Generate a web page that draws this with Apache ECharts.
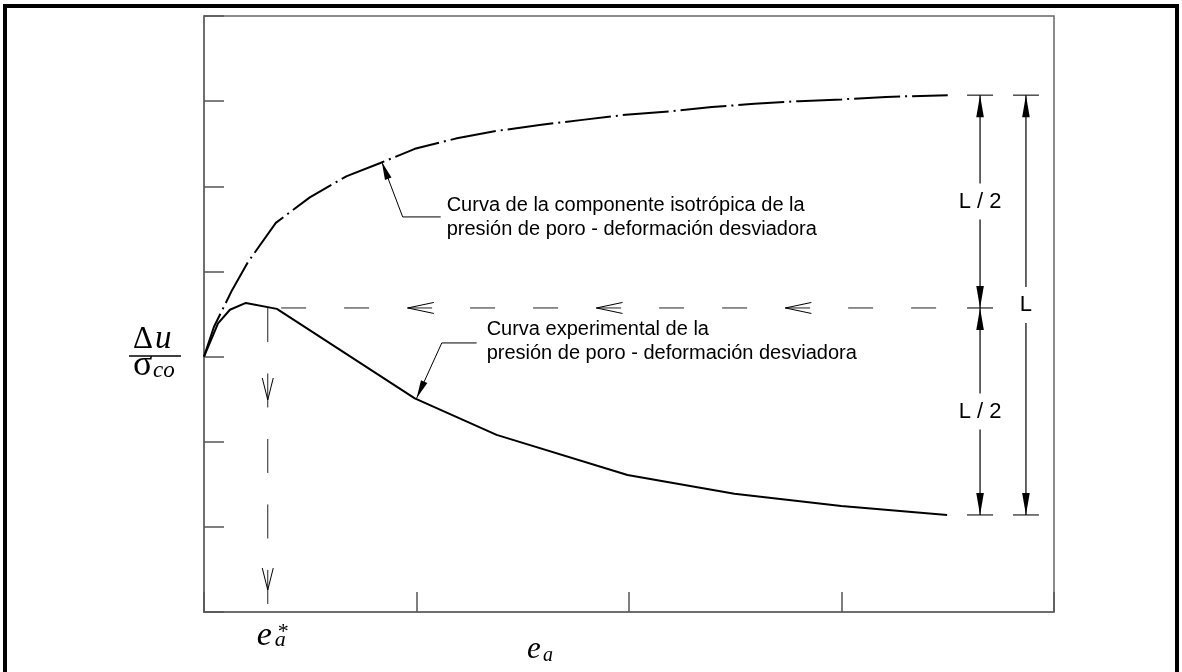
<!DOCTYPE html>
<html><head><meta charset="utf-8">
<script src="https://cdn.jsdelivr.net/npm/echarts@6/dist/echarts.min.js"></script>
<style>html,body{margin:0;padding:0;background:#fff}#c{width:1182px;height:672px}</style>
</head><body><div id="c"></div>
<script>
// ---- data (axis units: x 0..4, y 0..7) ----
const isoX = [0, 0.047, 0.132, 0.207, 0.338, 0.498, 0.672, 0.827, 0.992, 1.184, 1.377, 1.579, 1.781, 1.984, 2.19, 2.39, 2.59, 2.80, 3.00, 3.21, 3.50];
const isoY = [3.0, 3.35, 3.78, 4.11, 4.57, 4.87, 5.12, 5.27, 5.44, 5.56, 5.65, 5.72, 5.78, 5.84, 5.88, 5.93, 5.97, 6.00, 6.02, 6.05, 6.07];
const expX = [0, 0.066, 0.122, 0.197, 0.343, 0.992, 1.377, 1.993, 2.496, 2.999, 3.497];
const expY = [3.0, 3.39, 3.55, 3.63, 3.56, 2.51, 2.08, 1.61, 1.39, 1.245, 1.14];
const peak = [0.30, 3.571];           // e_a* and guide level
const guideEndX = 3.497;
const hArrowX = [0.959, 1.847, 2.736]; // chevron tips on horizontal guide
const vArrowY = [2.49, 0.258];         // chevron tips on vertical guide
const dimX = [3.652, 3.868];
const dimLabels = ['L / 2', 'L / 2', 'L'];
const isoNote = ['Curva de la componente isotrópica de la', 'presión de poro - deformación desviadora'];
const isoLeader = [[0.837, 5.285], [0.935, 4.64], [1.114, 4.64]];
const isoNoteX = 1.142, isoNoteY = [4.77, 4.49];
const expNote = ['Curva experimental de la', 'presión de poro - deformación desviadora'];
const expLeader = [[1.001, 2.513], [1.119, 3.16], [1.283, 3.16]];
const expNoteX = 1.330, expNoteY = [3.324, 3.042];

const SANS = '"Liberation Sans", Arial, sans-serif';
const SERIF = '"Liberation Serif", "Times New Roman", serif';
const zip = (xs, ys) => xs.map((x, i) => [x, ys[i]]);

function renderAnno(params, api) {
  const c = p => api.coord(p);
  const ch = [];
  const line = (a, b, w, col) => ch.push({type: 'line', shape: {x1: a[0], y1: a[1], x2: b[0], y2: b[1]}, style: {stroke: col || '#000', lineWidth: w || 1.2}});
  const head = (tip, ux, uy, len, hw) => {
    const bx = tip[0] - ux * len, by = tip[1] - uy * len;
    ch.push({type: 'polygon', shape: {points: [[tip[0], tip[1]], [bx - uy * hw, by + ux * hw], [bx + uy * hw, by - ux * hw]]}, style: {fill: '#000'}});
  };
  const chev = (tip, ux, uy, len, hw) => {
    const bx = tip[0] - ux * len, by = tip[1] - uy * len;
    ch.push({type: 'polyline', shape: {points: [[bx - uy * hw, by + ux * hw], [tip[0], tip[1]], [bx + uy * hw, by - ux * hw]]}, style: {stroke: '#000', fill: null, lineWidth: 1}});
  };
  const text = (p, s, size) => ch.push({type: 'text', x: p[0], y: p[1], style: {text: s, fill: '#000', fontSize: size, fontFamily: SANS, align: p.align || 'left', verticalAlign: 'middle'}});

  // chevrons on guides
  hArrowX.forEach(x => chev(c([x, peak[1]]), -1, 0, 26, 5.5));
  vArrowY.forEach(y => chev(c([peak[0], y]), 0, 1, 22, 5.5));

  // dimension lines
  const yT = isoY[isoY.length - 1], yM = peak[1], yB = expY[expY.length - 1];
  const pT1 = c([dimX[0], yT]), pM1 = c([dimX[0], yM]), pB1 = c([dimX[0], yB]);
  const pT2 = c([dimX[1], yT]), pB2 = c([dimX[1], yB]);
  [pT1, pM1, pB1, pT2, pB2].forEach(p => line([p[0] - 13, p[1]], [p[0] + 13, p[1]], 1.3, '#333'));
  const seg = (a, b, label) => {
    const m = (a[1] + b[1]) / 2;
    line(a, [a[0], m - 18]);
    line([a[0], m + 18], b);
    const t = [a[0], m]; t.align = 'center';
    text(t, label, 22);
    head(a, 0, -1, 22, 3.8);
    head(b, 0, 1, 22, 3.8);
  };
  seg(pT1, pM1, dimLabels[0]);
  seg(pM1, pB1, dimLabels[1]);
  seg(pT2, pB2, dimLabels[2]);

  // leader arrows + notes
  const leader = (pts) => {
    const px = pts.map(c);
    ch.push({type: 'polyline', shape: {points: px}, style: {stroke: '#000', fill: null, lineWidth: 1}});
    const dx = px[0][0] - px[1][0], dy = px[0][1] - px[1][1], L = Math.hypot(dx, dy);
    head(px[0], dx / L, dy / L, 18, 3.5);
  };
  leader(isoLeader);
  leader(expLeader);
  isoNote.forEach((s, i) => text(c([isoNoteX, isoNoteY[i]]), s, 20));
  expNote.forEach((s, i) => text(c([expNoteX, expNoteY[i]]), s, 20));

  // e_a* label under the guide
  const pe = c([peak[0], 0]);
  ch.push({type: 'text', x: pe[0] - 11, y: pe[1] + 24, style: {text: 'e', fontSize: 34, fontStyle: 'italic', fontFamily: SERIF, fill: '#000', verticalAlign: 'middle', align: 'left'}});
  ch.push({type: 'text', x: pe[0] + 7, y: pe[1] + 28, style: {text: 'a', fontSize: 22, fontStyle: 'italic', fontFamily: SERIF, fill: '#000', verticalAlign: 'middle', align: 'left'}});
  ch.push({type: 'text', x: pe[0] + 10, y: pe[1] + 20, style: {text: '*', fontSize: 22, fontFamily: SERIF, fill: '#000', verticalAlign: 'middle', align: 'left'}});
  return {type: 'group', children: ch};
}

const chart = echarts.init(document.getElementById('c'));
chart.setOption({
  animation: false,
  backgroundColor: '#fff',
  textStyle: {fontFamily: SANS},
  grid: {left: 204, top: 16, right: 128, bottom: 60, show: true, borderColor: '#666', borderWidth: 1.5, backgroundColor: 'transparent'},
  xAxis: {type: 'value', min: 0, max: 4, interval: 1,
    axisLine: {show: true, lineStyle: {color: '#666', width: 1.5}},
    axisTick: {show: true, inside: true, length: 20, lineStyle: {color: '#555', width: 1.5}},
    axisLabel: {show: false}, splitLine: {show: false}},
  yAxis: {type: 'value', min: 0, max: 7, interval: 1,
    axisLine: {show: true, lineStyle: {color: '#666', width: 1.5}},
    axisTick: {show: true, inside: true, length: 20, lineStyle: {color: '#555', width: 1.5}},
    axisLabel: {show: false}, splitLine: {show: false}},
  series: [
    {type: 'line', data: zip(isoX, isoY), symbol: 'none', z: 3,
      lineStyle: {color: '#000', width: 2, type: [46, 5, 2, 5]}},
    {type: 'line', data: zip(expX, expY), symbol: 'none', z: 3,
      lineStyle: {color: '#000', width: 2}},
    {type: 'line', data: [[guideEndX, peak[1]], [peak[0], peak[1]]], symbol: 'none', z: 2,
      lineStyle: {color: '#222', width: 1, type: [25, 38], dashOffset: 52}},
    {type: 'line', data: [[peak[0], peak[1]], [peak[0], 0]], symbol: 'none', z: 2,
      lineStyle: {color: '#222', width: 1, type: [34, 31.5]}},
    {type: 'custom', data: [[0, 0]], renderItem: renderAnno, clip: false, silent: true, z: 5}
  ],
  graphic: [
    {type: 'polyline', shape: {points: [[5, 690], [5, 6], [1177, 6], [1177, 690]]}, style: {stroke: '#000', lineWidth: 4, fill: null}},
    {type: 'text', x: 133, y: 340, style: {text: 'Δ', fontSize: 31, fontFamily: SERIF, fill: '#000', verticalAlign: 'middle'}},
    {type: 'text', x: 155, y: 339, style: {text: 'u', fontSize: 33, fontStyle: 'italic', fontFamily: SERIF, fill: '#000', verticalAlign: 'middle'}},
    {type: 'line', shape: {x1: 129, y1: 356, x2: 181, y2: 356}, style: {stroke: '#000', lineWidth: 1.5}},
    {type: 'text', x: 133, y: 366, style: {text: 'σ', fontSize: 36, fontFamily: SERIF, fill: '#000', verticalAlign: 'middle'}},
    {type: 'text', x: 153, y: 371, style: {text: 'co', fontSize: 23, fontStyle: 'italic', fontFamily: SERIF, fill: '#000', verticalAlign: 'middle'}},
    {type: 'text', x: 527, y: 650, style: {text: 'e', fontSize: 31, fontStyle: 'italic', fontFamily: SERIF, fill: '#000', verticalAlign: 'middle'}},
    {type: 'text', x: 543, y: 656, style: {text: 'a', fontSize: 20, fontStyle: 'italic', fontFamily: SERIF, fill: '#000', verticalAlign: 'middle'}}
  ]
});
</script>
</body></html>
